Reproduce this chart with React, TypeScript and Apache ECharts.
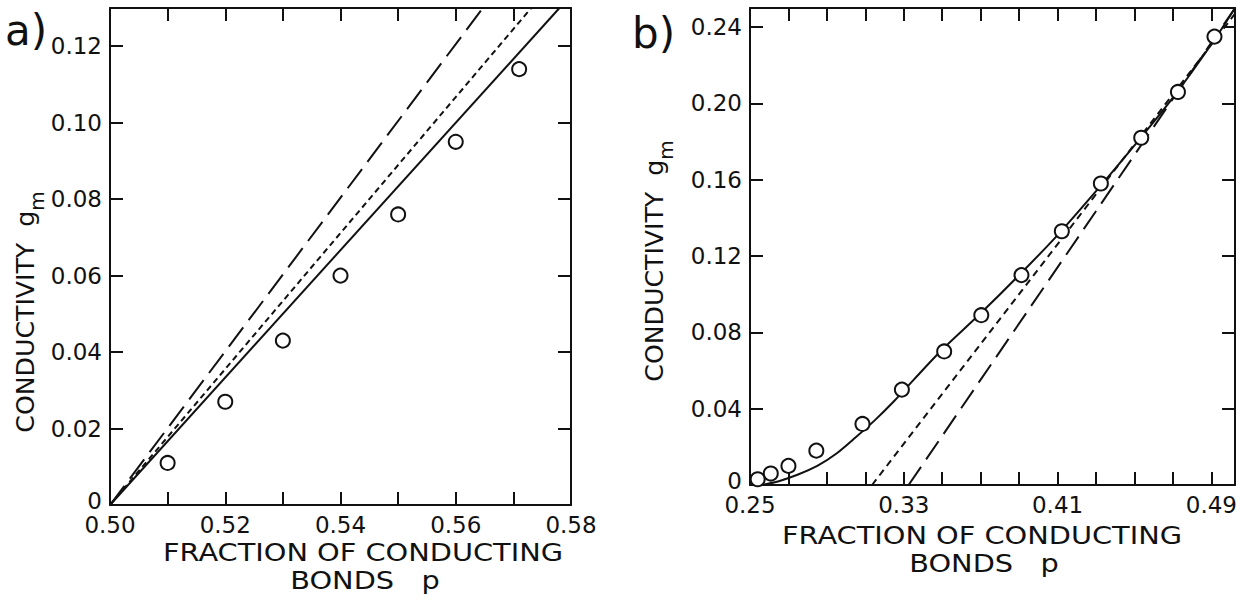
import React, { useEffect, useRef } from 'react';
import * as echarts from 'echarts';

// ---------- Panel a data ----------
const pA = [0.510, 0.520, 0.530, 0.540, 0.550, 0.560, 0.571];
const gA = [0.011, 0.027, 0.043, 0.060, 0.076, 0.095, 0.114];
const solidA = [[0.50, 0], [0.578, 0.130]];
const shortDashA = [[0.50, 0], [0.5731, 0.130]];
const longDashA = [[0.50, 0], [0.5647, 0.130]];
const xTicksA = [0.51, 0.52, 0.53, 0.54, 0.55, 0.56, 0.57];
const xLabelsA = [0.50, 0.52, 0.54, 0.56, 0.58];
const yTicksA = [0.02, 0.04, 0.06, 0.08, 0.10, 0.12];
const yLabelsA = [0, 0.02, 0.04, 0.06, 0.08, 0.10, 0.12];

// ---------- Panel b data ----------
const pB = [0.2540, 0.2608, 0.2700, 0.2845, 0.3085, 0.3290, 0.3510, 0.3703, 0.3912, 0.4122, 0.4325, 0.4535, 0.4726, 0.4916];
const gB = [0.003, 0.006, 0.010, 0.018, 0.032, 0.050, 0.070, 0.089, 0.110, 0.133, 0.158, 0.182, 0.206, 0.235];
const solidBp = [0.256, 0.265, 0.275, 0.285, 0.295, 0.305, 0.315, 0.325, 0.335, 0.350, 0.370, 0.390, 0.410, 0.430, 0.450, 0.470, 0.490, 0.5023];
const solidBg = [0.000, 0.002, 0.0055, 0.010, 0.0165, 0.025, 0.034, 0.044, 0.055, 0.071, 0.090, 0.110, 0.131, 0.154, 0.178, 0.203, 0.231, 0.250];
const shortDashB = [[0.3135, 0], [0.5023, 0.247]];
const longDashB = [[0.3325, 0], [0.5023, 0.250]];
const xTicksB = [0.27, 0.29, 0.31, 0.33, 0.35, 0.37, 0.39, 0.41, 0.43, 0.45, 0.47, 0.49];
const xLabelsB = [0.25, 0.33, 0.41, 0.49];
const yTicksB = [0.04, 0.08, 0.12, 0.16, 0.20, 0.24];
const yLabelsB = [0, 0.04, 0.08, 0.12, 0.16, 0.20, 0.24];

const INK = '#111111';
const FONT = 'DejaVu Sans';

const fmtX = (v: number) => v.toFixed(2);
const fmtY = (v: number) => (Math.abs(v) < 1e-9 ? '{z|0}' : v.toFixed(2));

function xAx(grid: number, min: number, max: number, ticks: number[], labels: number[], top: boolean) {
  return {
    type: 'value', gridIndex: grid, min, max, position: top ? 'top' : 'bottom',
    axisLine: { show: true, onZero: false, lineStyle: { color: INK, width: 2 } },
    axisTick: { show: true, inside: true, length: 13, customValues: ticks, lineStyle: { color: INK, width: 2 } },
    axisLabel: top ? { show: false } : {
      show: true, customValues: labels, formatter: fmtX, margin: 8,
      fontSize: 23, color: INK, fontFamily: FONT,
    },
    splitLine: { show: false },
  };
}
function yAx(grid: number, min: number, max: number, ticks: number[], labels: number[], right: boolean) {
  return {
    type: 'value', gridIndex: grid, min, max, position: right ? 'right' : 'left',
    axisLine: { show: true, onZero: false, lineStyle: { color: INK, width: 2 } },
    axisTick: { show: true, inside: true, length: 13, customValues: ticks, lineStyle: { color: INK, width: 2 } },
    axisLabel: right ? { show: false } : {
      show: true, customValues: labels, formatter: fmtY, margin: 8,
      fontSize: 23, color: INK, fontFamily: FONT,
      rich: { z: { fontSize: 23, color: INK, fontFamily: FONT, padding: [0, 0, 8, 0] } },
    },
    splitLine: { show: false },
  };
}

function lineSeries(xi: number, data: number[][], type: any) {
  return {
    type: 'line', xAxisIndex: xi, yAxisIndex: xi, data, showSymbol: false, symbol: 'none',
    lineStyle: { color: INK, width: 2, type }, z: 3, silent: true,
  };
}
function scatterSeries(xi: number, xs: number[], ys: number[]) {
  return {
    type: 'scatter', xAxisIndex: xi, yAxisIndex: xi, data: xs.map((x, i) => [x, ys[i]]),
    symbol: 'circle', symbolSize: 14,
    itemStyle: { color: '#ffffff', borderColor: INK, borderWidth: 2, opacity: 1 }, z: 5, silent: true,
  };
}

function yTitle(x: number, y: number) {
  return {
    type: 'text', x, y, rotation: Math.PI / 2, scaleX: 1.05,
    style: {
      text: '{t|CONDUCTIVITY  g}{s|m}',
      align: 'center', verticalAlign: 'middle',
      fontSize: 24, fontFamily: FONT, fill: INK,
      rich: {
        t: { fontSize: 24, fontFamily: FONT, fill: INK, lineHeight: 42, verticalAlign: 'middle' },
        s: { fontSize: 19, fontFamily: FONT, fill: INK, lineHeight: 42, verticalAlign: 'bottom' },
      },
    },
  };
}
function xTitle(x: number, y: number) {
  return [
    { type: 'text', x, y, scaleX: 1.2, style: { text: 'FRACTION OF CONDUCTING', align: 'center', verticalAlign: 'middle', fontSize: 24, fontFamily: FONT, fill: INK } },
    { type: 'text', x: x + 2, y: y + 28, scaleX: 1.2, style: { text: 'BONDS   p', align: 'center', verticalAlign: 'middle', fontSize: 24, fontFamily: FONT, fill: INK } },
  ];
}

export default function App() {
  const ref = useRef<HTMLDivElement>(null);
  useEffect(() => {
    if (!ref.current) return;
    const chart = echarts.init(ref.current, undefined, { renderer: 'svg' });
    chart.setOption({
      animation: false,
      backgroundColor: '#ffffff',
      grid: [
        { left: 110, top: 8, width: 461, height: 497 },
        { left: 750, top: 8, width: 487, height: 477 },
      ],
      xAxis: [
        xAx(0, 0.50, 0.58, xTicksA, xLabelsA, false),
        xAx(0, 0.50, 0.58, xTicksA, xLabelsA, true),
        xAx(1, 0.25, 0.5023, xTicksB, xLabelsB, false),
        xAx(1, 0.25, 0.5023, xTicksB, xLabelsB, true),
      ],
      yAxis: [
        yAx(0, 0, 0.13, yTicksA, yLabelsA, false),
        yAx(0, 0, 0.13, yTicksA, yLabelsA, true),
        yAx(1, 0, 0.25, yTicksB, yLabelsB, false),
        yAx(1, 0, 0.25, yTicksB, yLabelsB, true),
      ],
      series: [
        lineSeries(0, solidA, 'solid'),
        lineSeries(0, shortDashA, [6, 4]),
        lineSeries(0, longDashA, [24, 9]),
        scatterSeries(0, pA, gA),
        { ...lineSeries(2, solidBp.map((p, i) => [p, solidBg[i]]), 'solid'), smooth: 0.3 },
        lineSeries(2, shortDashB, [7, 5]),
        lineSeries(2, longDashB, [22, 9]),
        scatterSeries(2, pB, gB),
      ],
      graphic: [
        { type: 'text', left: 5, top: 9, style: { text: 'a)', fontSize: 42, fontFamily: FONT, fill: INK } },
        { type: 'text', left: 632, top: 12, style: { text: 'b)', fontSize: 42, fontFamily: FONT, fill: INK } },
        yTitle(26, 312),
        yTitle(655, 261),
        ...xTitle(363, 552),
        ...xTitle(982, 535),
      ],
    });
    return () => chart.dispose();
  }, []);
  return (
    <div
      ref={ref}
      style={{ position: 'absolute', left: 0, top: 0, width: 1240, height: 601, background: '#fff' }}
    />
  );
}
